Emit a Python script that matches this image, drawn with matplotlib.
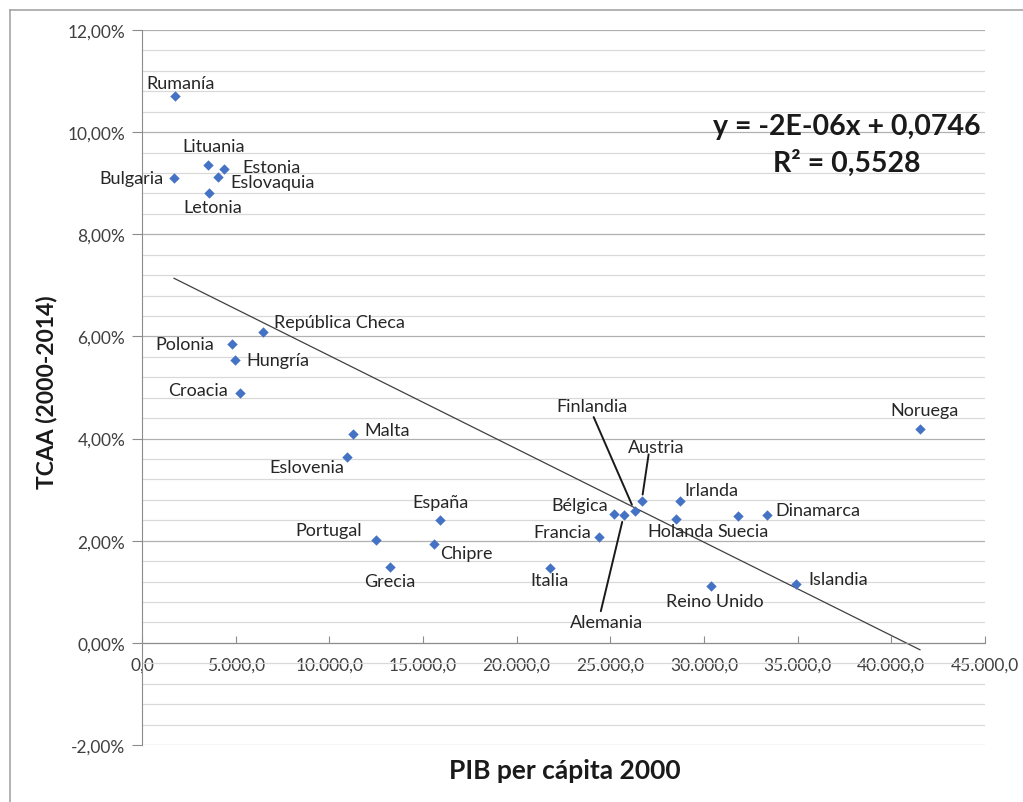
import numpy as np
import matplotlib
matplotlib.use("Agg")
import matplotlib.pyplot as plt
from matplotlib.ticker import FuncFormatter, MultipleLocator
from matplotlib.lines import Line2D

plt.rcParams['font.family'] = ['Lato', 'DejaVu Sans']

countries = ["Rumanía", "Lituania", "Estonia", "Eslovaquia", "Bulgaria", "Letonia",
             "República Checa", "Polonia", "Hungría", "Croacia", "Malta", "Eslovenia",
             "España", "Portugal", "Chipre", "Grecia", "Italia", "Francia", "Bélgica",
             "Alemania", "Finlandia", "Austria", "Irlanda", "Holanda", "Suecia",
             "Dinamarca", "Reino Unido", "Islandia", "Noruega"]
gdp_2000 = [1760, 3530, 4380, 4060, 1710, 3580,
            6470, 4810, 4970, 5240, 11280, 10960,
            15930, 12510, 15610, 13250, 21770, 24380, 25200,
            25720, 26300, 26670, 28700, 28490, 31810,
            33350, 30360, 34930, 41530]
tcaa = [0.1070, 0.0935, 0.0928, 0.0912, 0.0910, 0.0881,
        0.0609, 0.0585, 0.0554, 0.0489, 0.0409, 0.0364,
        0.0241, 0.0202, 0.0194, 0.0149, 0.0146, 0.0208, 0.0252,
        0.0250, 0.0258, 0.0277, 0.0277, 0.0243, 0.0249,
        0.0250, 0.0112, 0.0115, 0.0418]

# label offsets in pixels (dx, dy) from each point, plus optional leader line
label_offsets = {
    "Rumanía": (6, 13), "Lituania": (5, 19), "Estonia": (47, 2), "Eslovaquia": (55, -5),
    "Bulgaria": (-43, 0), "Letonia": (4, -14), "República Checa": (76, 10),
    "Polonia": (-47, 0), "Hungría": (43, 0), "Croacia": (-42, 3), "Malta": (34, 4),
    "Eslovenia": (-41, -10), "España": (0, 18), "Portugal": (-48, 10), "Chipre": (32, -9),
    "Grecia": (0, -14), "Italia": (0, -12), "Francia": (-36, 5), "Bélgica": (-34, 9),
    "Alemania": (-17, -107), "Finlandia": (-43, 105), "Austria": (15, 54),
    "Irlanda": (32, 11), "Holanda": (5, -12), "Suecia": (5, -15), "Dinamarca": (51, 5),
    "Reino Unido": (4, -15), "Islandia": (42, 5), "Noruega": (5, 19),
}
leaders = {"Alemania": (-23, -96), "Finlandia": (-41, 94), "Austria": (7, 47)}

fig = plt.figure(figsize=(10.23, 8.03), dpi=100)
# chart-area frame: top and left edges
fig.add_artist(Line2D([10 / 1023, 1], [1 - 11 / 803, 1 - 11 / 803],
                      transform=fig.transFigure, color="#a6a6a6", linewidth=1.2))
fig.add_artist(Line2D([10 / 1023, 10 / 1023], [0, 1 - 11 / 803],
                      transform=fig.transFigure, color="#a6a6a6", linewidth=1.2))
ax = fig.add_axes([142 / 1023, 1 - 746 / 803, (985 - 142) / 1023, (746 - 31) / 803])

ax.set_xlim(0, 45000)
ax.set_ylim(-0.02, 0.12)
ax.yaxis.set_major_locator(MultipleLocator(0.02))
ax.yaxis.set_minor_locator(MultipleLocator(0.004))
ax.xaxis.set_major_locator(MultipleLocator(5000))
ax.yaxis.grid(True, which="major", color="#b0b0b0", linewidth=0.9)
ax.yaxis.grid(True, which="minor", color="#d9d9d9", linewidth=0.9)
ax.set_axisbelow(True)

for s in ["top", "right"]:
    ax.spines[s].set_visible(False)
ax.spines["left"].set_color("#8c8c8c")
ax.spines["bottom"].set_position(("data", 0))
ax.spines["bottom"].set_color("#8c8c8c")

ax.yaxis.set_major_formatter(FuncFormatter(lambda v, p: f"{v*100:.2f}%".replace(".", ",")))
ax.xaxis.set_major_formatter(FuncFormatter(
    lambda v, p: f"{v:,.1f}".replace(",", "X").replace(".", ",").replace("X", ".")))
ax.tick_params(axis="y", which="major", length=7, color="#8c8c8c", labelsize=12.5,
               labelcolor="#404040", pad=5)
ax.tick_params(axis="y", which="minor", length=0)
ax.tick_params(axis="x", length=5, color="#8c8c8c", labelsize=12.5,
               labelcolor="#404040", direction="in", pad=10)

ax.scatter(gdp_2000, tcaa, marker="D", s=28, color="#4472C4", zorder=3, linewidths=0)

# linear trend line
coef = np.polyfit(gdp_2000, tcaa, 1)
xs = np.array([min(gdp_2000), max(gdp_2000)])
ax.plot(xs, np.polyval(coef, xs), color="#404040", linewidth=0.9, zorder=2)

for name, x, y in zip(countries, gdp_2000, tcaa):
    dx, dy = label_offsets[name]
    ax.annotate(name, (x, y), xytext=(dx, dy), textcoords="offset pixels",
                ha="center", va="center", fontsize=13, color="#262626", zorder=4)
    if name in leaders:
        lx, ly = leaders[name]
        ax.annotate("", (x, y), xytext=(lx, ly), textcoords="offset pixels",
                    arrowprops=dict(arrowstyle="-", color="#1a1a1a", lw=1.4,
                                    shrinkA=0, shrinkB=5))

fig.text(847 / 1023, 1 - 127 / 803, "y = -2E-06x + 0,0746", ha="center", va="center",
         fontsize=20.5, fontweight="bold", color="#1a1a1a")
fig.text(847 / 1023, 1 - 163 / 803, "R² = 0,5528", ha="center", va="center",
         fontsize=20.5, fontweight="bold", color="#1a1a1a")

fig.text(565 / 1023, 1 - 771 / 803, "PIB per cápita 2000", ha="center", va="center",
         fontsize=19, fontweight="bold", color="#1a1a1a")
fig.text(47 / 1023, 1 - 392 / 803, "TCAA (2000-2014)", rotation=90, ha="center",
         va="center", fontsize=16.5, fontweight="bold", color="#1a1a1a")

fig.savefig("out.png", dpi=100)
